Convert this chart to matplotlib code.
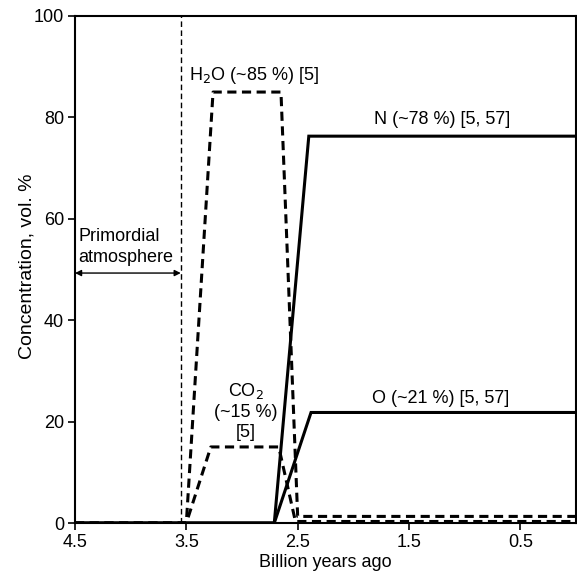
import matplotlib
matplotlib.use("Agg")
import matplotlib.pyplot as plt

plt.rcParams['font.family'] = ['Liberation Sans', 'DejaVu Sans']

# Data (billion years ago, vol. %)
h2o_x = [4.5, 3.5, 3.26, 2.65, 2.5, 0.0]
h2o_y = [0, 0, 85, 85, 1.3, 1.3]
co2_x = [4.5, 3.5, 3.28, 2.67, 2.52, 0.0]
co2_y = [0, 0, 15, 15, 0.3, 0.3]
n_x = [4.5, 2.71, 2.4, 0.0]
n_y = [0, 0, 76.3, 76.3]
o_x = [4.5, 2.71, 2.38, 0.0]
o_y = [0, 0, 21.8, 21.8]
primordial_end = 3.55
arrow_y = 49.3

xticks = [4.5, 3.5, 2.5, 1.5, 0.5]
yticks = [0, 20, 40, 60, 80, 100]

fig = plt.figure(figsize=(5.77, 5.76), dpi=100)
ax = fig.add_axes([75/577, 1-523/576, 501/577, 507/576])

dash = (0, (3.0, 1.8))
ax.plot(h2o_x, h2o_y, color='black', lw=2.2, linestyle=dash)
ax.plot(co2_x, co2_y, color='black', lw=2.2, linestyle=dash)
ax.plot(n_x, n_y, color='black', lw=2.2, solid_joinstyle='miter')
ax.plot(o_x, o_y, color='black', lw=2.2, solid_joinstyle='miter')
ax.axvline(primordial_end, color='black', lw=1.0, linestyle=(0, (4, 2.5)))
ax.annotate('', xy=(4.5, arrow_y), xytext=(primordial_end, arrow_y),
            arrowprops=dict(arrowstyle='<|-|>', color='black', lw=1.0,
                            shrinkA=0, shrinkB=0, mutation_scale=9))

fs = 13
ax.text(4.47, 54.4, 'Primordial\natmosphere', ha='left', va='center', fontsize=fs,
        linespacing=1.3)
ax.text(2.895, 88.2, r'H$_2$O (~85 %) [5]', ha='center', va='center', fontsize=fs)
ax.text(2.965, 22.1, 'CO$_2$\n(~15 %)\n[5]', ha='center', va='center', fontsize=fs,
        linespacing=1.25)
ax.text(1.2, 79.6, 'N (~78 %) [5, 57]', ha='center', va='center', fontsize=fs)
ax.text(1.22, 24.6, 'O (~21 %) [5, 57]', ha='center', va='center', fontsize=fs)

ax.set_xlim(4.5, 0)
ax.set_ylim(0, 100)
ax.set_xticks(xticks)
ax.set_xticklabels([str(t) for t in xticks])
ax.set_yticks(yticks)
ax.tick_params(axis='both', labelsize=fs, direction='out', length=5, width=1.2, pad=3)
for s in ax.spines.values():
    s.set_linewidth(1.5)
ax.set_xlabel('Billion years ago', fontsize=fs, labelpad=2)
ax.set_ylabel('Concentration, vol. %', fontsize=14, labelpad=0)
ax.yaxis.set_label_coords(-0.078, 0.507)

fig.savefig('out.png', dpi=100)
